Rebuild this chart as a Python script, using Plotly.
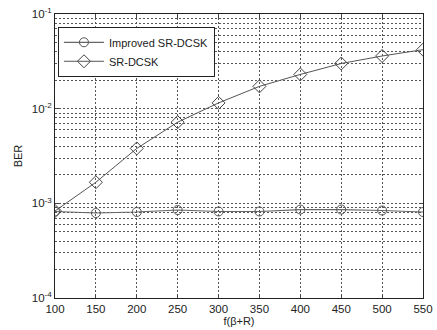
import plotly.graph_objects as go

x_vals = [100, 150, 200, 250, 300, 350, 400, 450, 500, 550]
improved_ber = [8.2e-4, 7.9e-4, 8.1e-4, 8.5e-4, 8.2e-4, 8.2e-4, 8.6e-4, 8.6e-4, 8.4e-4, 8.1e-4]
srdcsk_ber = [8.3e-4, 1.67e-3, 3.8e-3, 7.2e-3, 1.15e-2, 1.72e-2, 2.3e-2, 3.0e-2, 3.6e-2, 4.2e-2]
y_tickvals = [1e-4, 1e-3, 1e-2, 1e-1]
y_ticktext = ["10<sup>-4</sup>", "10<sup>-3</sup>", "10<sup>-2</sup>", "10<sup>-1</sup>"]

GRID = "#555555"
DASH = "1.5px,2.5px"

fig = go.Figure()
fig.add_trace(go.Scatter(
    x=x_vals, y=improved_ber, mode="lines+markers", name="Improved SR-DCSK",
    line=dict(color="#666666", width=1.2),
    marker=dict(symbol="circle-open", size=9, color="#555555", line=dict(width=1)),
))
fig.add_trace(go.Scatter(
    x=x_vals, y=srdcsk_ber, mode="lines+markers", name="SR-DCSK",
    line=dict(color="#555555", width=1),
    marker=dict(symbol="diamond-open", size=10, color="#444444", line=dict(width=1)),
))

fig.update_layout(
    width=437, height=330,
    margin=dict(l=55, r=14, t=14, b=32),
    paper_bgcolor="white", plot_bgcolor="white",
    font=dict(family="Liberation Sans, Arial", size=11, color="#222222"),
    showlegend=True,
    legend=dict(x=0.008, y=0.955, xanchor="left", yanchor="top",
                bgcolor="white", bordercolor="#222222", borderwidth=1,
                font=dict(size=11), tracegroupgap=0, itemwidth=40),
)
fig.update_xaxes(
    range=[100, 550], tickvals=x_vals, ticks="inside", ticklen=4,
    showline=True, mirror="ticks", linecolor="#222222", linewidth=1,
    showgrid=True, gridcolor=GRID, griddash=DASH, gridwidth=1,
    zeroline=False, automargin=False,
    title=dict(text="f(β+R)", standoff=0, font=dict(size=11)),
    tickfont=dict(size=11.5),
)
fig.update_yaxes(
    type="log", range=[-4, -1], tickvals=y_tickvals, ticktext=y_ticktext,
    ticks="inside", ticklen=4,
    showline=True, mirror="ticks", linecolor="#222222", linewidth=1,
    showgrid=True, gridcolor=GRID, griddash=DASH, gridwidth=1,
    minor=dict(dtick="D1", showgrid=True, gridcolor=GRID, griddash=DASH, gridwidth=1, ticks=""),
    zeroline=False, automargin=False,
    title=dict(text="BER", standoff=6, font=dict(size=11)),
    tickfont=dict(size=11.5),
)

fig.write_html("out.html", config={"displayModeBar": False},
               post_script="document.body.style.margin='0';")
